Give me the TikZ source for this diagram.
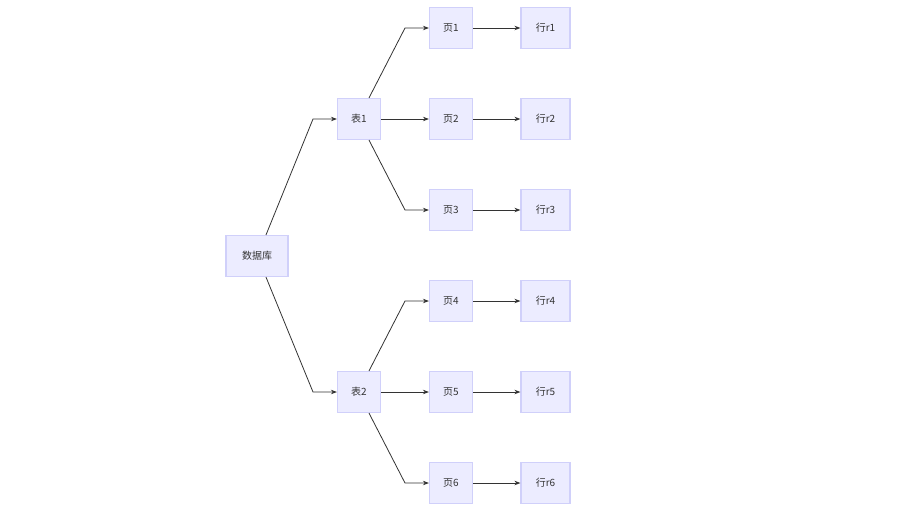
\documentclass[tikz,border=0pt]{standalone}
\usepackage{fontspec}
\setmainfont{Noto Sans CJK SC}
\usetikzlibrary{arrows.meta}
\definecolor{nfill}{HTML}{ECECFF}
\definecolor{ndraw}{HTML}{D0D0FA}
\definecolor{ln}{HTML}{333333}
\begin{document}
\begin{tikzpicture}[x=1pt,y=-1pt,
  box/.style={draw=ndraw,fill=nfill,line width=1.2pt,minimum height=41pt,inner sep=0pt,font=\fontsize{10}{12}\selectfont,text=ln},
  conn/.style={draw=ln,line width=0.8pt,-{Stealth[length=6pt,width=4.5pt]}}]
\useasboundingbox (0,0) rectangle (912,525);
\node[box,minimum width=62pt] (db) at (257,256) {数据库};
\node[box,minimum width=43pt] (t1) at (359,119) {表1};
\node[box,minimum width=43pt] (t2) at (359,392) {表2};
\foreach \i/\y in {1/28,2/119,3/210,4/301,5/392,6/483}{
  \node[box,minimum width=43pt] (p\i) at (451,\y) {页\i};
  \node[box,minimum width=49pt] (r\i) at (545.5,\y) {行r\i};
  \draw[conn] (p\i) -- (r\i);
}
\draw[conn] ([xshift=9pt]db.north) -- (313,119) -- (t1.west);
\draw[conn] ([xshift=9pt]db.south) -- (313,392) -- (t2.west);
\draw[conn] ([xshift=10pt]t1.north) -- (405,28) -- (p1.west);
\draw[conn] (t1.east) -- (p2.west);
\draw[conn] ([xshift=10pt]t1.south) -- (405,210) -- (p3.west);
\draw[conn] ([xshift=10pt]t2.north) -- (405,301) -- (p4.west);
\draw[conn] (t2.east) -- (p5.west);
\draw[conn] ([xshift=10pt]t2.south) -- (405,483) -- (p6.west);
\end{tikzpicture}
\end{document}
